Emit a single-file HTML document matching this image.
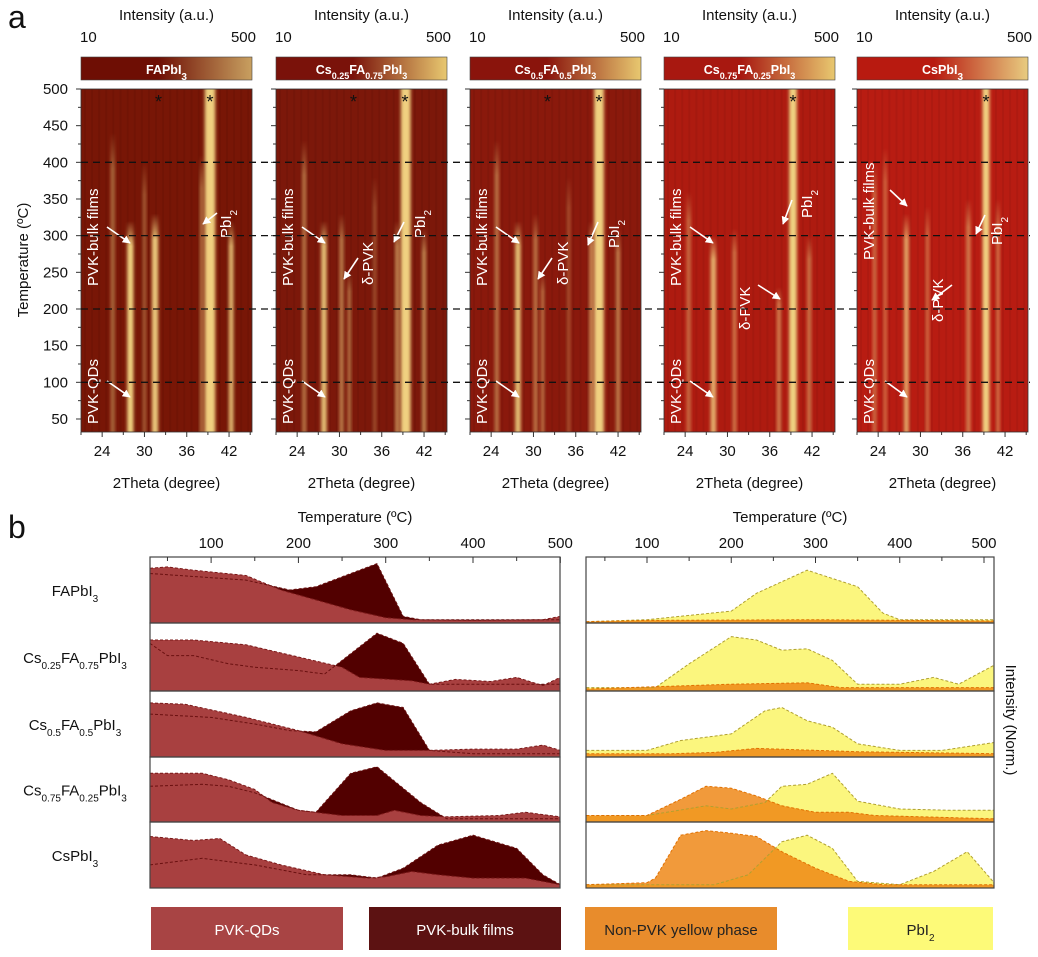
<!DOCTYPE html>
<html><head><meta charset="utf-8"><style>
html,body{margin:0;padding:0;background:#fff;}
svg{display:block;font-family:"Liberation Sans",Arial,sans-serif;}
</style></head><body>
<svg id="s" width="1038" height="957" viewBox="0 0 1038 957" xmlns="http://www.w3.org/2000/svg">
<defs>
<filter id="bl" x="-50%" y="-5%" width="200%" height="110%"><feGaussianBlur stdDeviation="1.6 0"/></filter>
<marker id="ar" viewBox="0 0 10 10" refX="9" refY="5" markerWidth="5" markerHeight="5" orient="auto"><path d="M0,0 L10,5 L0,10z" fill="#fff"/></marker>
</defs>
</svg>
<script>
(function(){
const S=document.getElementById('s');
let out='';
function t(x,y,s,o){o=o||{};out+=`<text x="${x}" y="${y}" font-size="${o.fs||14}" fill="${o.c||'#111'}" text-anchor="${o.a||'middle'}" ${o.w?'font-weight="bold"':''} ${o.tr?`transform="${o.tr}"`:''}>${s}</text>`;}
out+='<text x="8" y="28" font-size="32" fill="#111">a</text>';
out+='<text x="8" y="538" font-size="32" fill="#111">b</text>';
const lefts=[81,276,470,664,857],W=171,tp=89,bt=432;
const bgs=['#781606','#7c180a','#8a190c','#ae1b10','#b81c12'];
const cbs=[['#6e0e04','#c8a060'],['#7a120a','#e8c870'],['#8a140c','#e8c870'],['#a81810','#e8c870'],['#b81a10','#e8cc80']];
const names=['FAPbI<tspan baseline-shift="sub" font-size="10">3</tspan>',
'Cs<tspan baseline-shift="sub" font-size="9">0.25</tspan>FA<tspan baseline-shift="sub" font-size="9">0.75</tspan>PbI<tspan baseline-shift="sub" font-size="9">3</tspan>',
'Cs<tspan baseline-shift="sub" font-size="9">0.5</tspan>FA<tspan baseline-shift="sub" font-size="9">0.5</tspan>PbI<tspan baseline-shift="sub" font-size="9">3</tspan>',
'Cs<tspan baseline-shift="sub" font-size="9">0.75</tspan>FA<tspan baseline-shift="sub" font-size="9">0.25</tspan>PbI<tspan baseline-shift="sub" font-size="9">3</tspan>',
'CsPbI<tspan baseline-shift="sub" font-size="10">3</tspan>'];
const stripes=[
[[25.5,440,.45,.6],[28,320,1,.9],[30,400,.4,.5],[31.5,330,.95,.9],[38.1,410,.5,.5],[39.3,500,1,1.5],[42.3,320,.85,.7]],
[[25,430,.5,.6],[27.8,320,.9,.8],[30.3,330,.55,.6],[31.4,250,.5,.5],[35,380,.3,.5],[38.2,320,.6,.6],[39.4,500,1,1.4],[42,310,.6,.6]],
[[24.8,430,.5,.6],[27.8,320,.9,.8],[30.3,330,.5,.6],[31.3,250,.5,.5],[35,380,.3,.5],[38.2,320,.6,.6],[39.3,500,1,1.4],[42,310,.55,.6]],
[[24.5,360,.45,.6],[28,300,.8,.8],[31,310,.5,.6],[37.3,230,.55,.6],[39.3,500,1,1.1],[41.6,300,.5,.6]],
[[23.5,400,.5,.5],[25,420,.45,.5],[28,330,.75,.7],[31,340,.45,.5],[36.8,350,.55,.6],[39.3,500,1,1],[41,350,.5,.5]]];
// label positions per panel: bulk[x,bottom], QD[x,bottom], PbI2[x,bottom], delta[x,bottom] or null, arrows list
const LB=[
 {bk:[98,286],qd:[98,424],pb:[231,238],dl:null,ar:[[107,227,130,243],[107,381,130,397],[217,213,203,224]]},
 {bk:[293,286],qd:[293,424],pb:[425,238],dl:[373,285],ar:[[302,227,325,243],[302,381,325,397],[358,258,344,279],[404,222,394,242]]},
 {bk:[487,286],qd:[487,424],pb:[619,248],dl:[568,285],ar:[[496,227,519,243],[496,381,519,397],[552,258,538,279],[598,222,588,245]]},
 {bk:[681,286],qd:[681,424],pb:[812,218],dl:[750,330],ar:[[690,227,713,243],[690,381,713,397],[758,285,780,299],[792,200,783,224]]},
 {bk:[874,260],qd:[874,424],pb:[1002,245],dl:[943,322],ar:[[890,190,907,206],[885,381,907,397],[952,285,932,300],[985,215,976,234]]}];
const yT=T=>89+(500-T)*0.7333;
let defs='';
lefts.forEach((L,i)=>{
 const xq=th=>L+(th-21)*7.05;
 const cx=L+W/2;
 t(cx,20,'Intensity (a.u.)',{fs:15});
 t(L-1,42,'10',{fs:15,a:'start'});t(L+W+4,42,'500',{fs:15,a:'end'});
 defs+=`<linearGradient id="cg${i}" x1="0" x2="1"><stop offset="0" stop-color="${cbs[i][0]}"/><stop offset="0.45" stop-color="${cbs[i][0]}"/><stop offset="1" stop-color="${cbs[i][1]}"/></linearGradient>`;
 out+=`<rect x="${L}" y="57" width="${W}" height="23" fill="url(#cg${i})" stroke="#444" stroke-width="0.6"/>`;
 out+=`<text x="${cx}" y="74" font-size="12.5" font-weight="bold" fill="#fff" text-anchor="middle">${names[i]}</text>`;
 defs+=`<clipPath id="cp${i}"><rect x="${L}" y="${tp}" width="${W}" height="${bt-tp}"/></clipPath>`;
 out+=`<g clip-path="url(#cp${i})"><rect x="${L}" y="${tp}" width="${W}" height="${bt-tp}" fill="${bgs[i]}"/>`;
 for(let k=0;k<24;k++){const x=L+3+k*7.1;out+=`<rect x="${x}" y="${tp}" width="2" height="${bt-tp}" fill="#000" opacity="0.05"/>`;}
 stripes[i].forEach((s,j)=>{
  const id=`sg${i}_${j}`;const y0=s[1]>=500?tp:yT(s[1]);
  defs+=`<linearGradient id="${id}" x1="0" y1="0" x2="0" y2="1"><stop offset="0" stop-color="#f0d080" stop-opacity="${s[1]>=500?s[2]:0}"/><stop offset="0.12" stop-color="#f0d080" stop-opacity="${s[2]}"/><stop offset="1" stop-color="#f0d080" stop-opacity="${s[2]}"/></linearGradient>`;
  const w=s[3]*7;
  out+=`<rect x="${xq(s[0])-w/2}" y="${y0}" width="${w}" height="${bt-y0}" fill="url(#${id})" filter="url(#bl)"/>`;
 });
 out+='</g>';
 out+=`<rect x="${L}" y="${tp}" width="${W}" height="${bt-tp}" fill="none" stroke="#333" stroke-width="0.8"/>`;
 for(let T=50;T<=500;T+=25){const y=yT(T);out+=`<line x1="${L}" x2="${L-(T%50?3:5)}" y1="${y}" y2="${y}" stroke="#333"/>`;}
 for(let th=21;th<=45;th+=3){const x=xq(th);out+=`<line x1="${x}" x2="${x}" y1="${bt}" y2="${bt+(th%6?3:5)}" stroke="#333"/>`;}
 [24,30,36,42].forEach(th=>t(xq(th),456,th,{fs:15}));
 t(cx,488,'2Theta (degree)',{fs:15});
 const wt=(p,s)=>t(p[0],p[1],s,{fs:15,c:'#fff',a:'start',tr:`rotate(-90 ${p[0]} ${p[1]})`});
 const lb=LB[i];
 wt(lb.bk,'PVK-bulk films');
 wt(lb.qd,'PVK-QDs');
 if(lb.dl)wt(lb.dl,'δ-PVK');
 out+=`<text x="${lb.pb[0]}" y="${lb.pb[1]}" font-size="15" fill="#fff" text-anchor="start" transform="rotate(-90 ${lb.pb[0]} ${lb.pb[1]})">PbI<tspan baseline-shift="sub" font-size="10">2</tspan></text>`;
 lb.ar.forEach(a=>{out+=`<line x1="${a[0]}" y1="${a[1]}" x2="${a[2]}" y2="${a[3]}" stroke="#fff" stroke-width="1.6" marker-end="url(#ar)"/>`;});
 const px=xq(39.3);
 out+=`<text x="${px}" y="108" font-size="18" fill="#111" text-anchor="middle">*</text>`;
 if(i<3)out+=`<text x="${xq(32)}" y="108" font-size="18" fill="#111" text-anchor="middle">*</text>`;
});
[400,300,200,100].forEach(T=>{const y=yT(T);out+=`<line x1="81" x2="1030" y1="${y}" y2="${y}" stroke="#111" stroke-width="1.3" stroke-dasharray="7,5"/>`;});
[500,450,400,350,300,250,200,150,100,50].forEach(T=>t(68,yT(T)+5,T,{fs:15,a:'end'}));
t(28,260,'Temperature (ºC)',{fs:15,tr:'rotate(-90 28 260)'});
const rows=[[557,623],[623,691],[691,757],[757,822],[822,888]];
function poly(pts,xT,r,fill,op,stroke){
 const y1=r[1],h=r[1]-r[0];
 let d=`M${xT(pts[0][0])},${y1}`;pts.forEach(p=>{d+=` L${xT(p[0]).toFixed(1)},${(y1-p[1]*h).toFixed(1)}`;});d+=` L${xT(pts[pts.length-1][0])},${y1}Z`;
 out+=`<path d="${d}" fill="${fill}" fill-opacity="${op}"/>`;
 let l='';pts.forEach((p,k)=>{l+=(k?' L':'M')+xT(p[0]).toFixed(1)+','+(y1-p[1]*h).toFixed(1);});
 return `<path d="${l}" fill="none" stroke="${stroke}" stroke-width="1" stroke-dasharray="3,2"/>`;
}
const xL=T=>150+(T-30)*0.873, xR=T=>647+(T-100)*0.8425;
const QD=[
[[30,.83],[50,.85],[80,.8],[140,.72],[180,.5],[220,.35],[260,.2],[300,.08],[330,.05],[400,.04],[480,.05],[500,.1]],
[[30,.75],[80,.75],[140,.68],[200,.5],[250,.35],[270,.2],[330,.15],[350,.1],[380,.17],[420,.14],[450,.2],[480,.08],[500,.2]],
[[30,.82],[70,.8],[140,.6],[170,.5],[200,.4],[250,.2],[300,.1],[350,.1],[400,.12],[450,.12],[480,.18],[500,.1]],
[[30,.75],[90,.75],[120,.65],[150,.5],[170,.3],[200,.18],[250,.1],[290,.1],[310,.18],[340,.1],[370,.08],[430,.1],[460,.15],[500,.08]],
[[30,.78],[80,.72],[110,.75],[140,.5],[180,.35],[230,.2],[280,.15],[300,.17],[330,.25],[360,.2],[400,.15],[460,.15],[500,.05]]];
const BK=[
[[30,.75],[140,.65],[190,.5],[220,.55],[290,.9],[320,.1],[340,.05],[500,.05]],
[[30,.7],[50,.52],[80,.52],[120,.4],[150,.35],[200,.3],[230,.25],[260,.55],[290,.85],[320,.7],[350,.1],[500,.1]],
[[30,.65],[100,.6],[150,.5],[190,.4],[220,.38],[260,.7],[290,.82],[320,.75],[350,.1],[400,.05],[500,.05]],
[[30,.55],[90,.58],[120,.55],[150,.45],[200,.18],[220,.15],[260,.75],[290,.85],[340,.3],[370,.05],[500,.05]],
[[30,.35],[90,.45],[150,.35],[210,.2],[260,.2],[290,.15],[320,.3],[360,.65],[400,.8],[450,.6],[480,.2],[500,.05]]];
const YL=[
[[28,.02],[100,.05],[200,.18],[230,.45],[290,.8],[350,.55],[380,.15],[400,.05],[512,.05]],
[[28,.05],[110,.05],[150,.4],[200,.8],[230,.75],[260,.6],[290,.62],[320,.45],[350,.1],[400,.1],[440,.2],[470,.1],[512,.38]],
[[28,.1],[100,.1],[140,.25],[200,.35],[240,.7],[260,.75],[290,.55],[320,.45],[350,.2],[400,.1],[450,.1],[512,.22]],
[[28,.1],[100,.1],[170,.25],[200,.2],[240,.3],[260,.55],[290,.58],[320,.75],[350,.32],[400,.2],[460,.18],[512,.18]],
[[28,.05],[180,.05],[220,.2],[260,.7],[290,.8],[320,.6],[350,.1],[400,.05],[440,.25],[480,.55],[512,.08]]];
const OR=[
[[28,.02],[100,.04],[300,.05],[512,.03]],
[[28,.03],[200,.1],[290,.12],[330,.05],[512,.05]],
[[28,.05],[130,.05],[180,.07],[230,.13],[350,.08],[512,.05]],
[[28,.1],[100,.1],[140,.35],[170,.55],[200,.52],[230,.4],[260,.25],[300,.15],[340,.15],[370,.1],[512,.05]],
[[28,.05],[100,.08],[110,.15],[140,.8],[170,.87],[200,.83],[230,.78],[260,.55],[300,.3],[340,.1],[380,.05],[512,.05]]];
const lab=['FAPbI<tspan baseline-shift="sub" font-size="10">3</tspan>',
'Cs<tspan baseline-shift="sub" font-size="10">0.25</tspan>FA<tspan baseline-shift="sub" font-size="10">0.75</tspan>PbI<tspan baseline-shift="sub" font-size="10">3</tspan>',
'Cs<tspan baseline-shift="sub" font-size="10">0.5</tspan>FA<tspan baseline-shift="sub" font-size="10">0.5</tspan>PbI<tspan baseline-shift="sub" font-size="10">3</tspan>',
'Cs<tspan baseline-shift="sub" font-size="10">0.75</tspan>FA<tspan baseline-shift="sub" font-size="10">0.25</tspan>PbI<tspan baseline-shift="sub" font-size="10">3</tspan>',
'CsPbI<tspan baseline-shift="sub" font-size="10">3</tspan>'];
rows.forEach((r,i)=>{
 let ls='';
 ls+=poly(BK[i],xL,r,'#520000',1,'#6a1010');
 ls+=poly(QD[i],xL,r,'#a84040',1,'#7a1818');
 out+=ls;
 let rs='';
 rs+=poly(YL[i],xR,r,'#fbf570',0.9,'#b0a030');
 rs+=poly(OR[i],xR,r,'#ee8410',0.82,'#e07000');
 out+=rs;
 out+=`<text x="75" y="${(r[0]+r[1])/2+6}" font-size="15" fill="#111" text-anchor="middle">${lab[i]}</text>`;
 out+=`<rect x="150" y="${r[0]}" width="410" height="${r[1]-r[0]}" fill="none" stroke="#444" stroke-width="1.2"/>`;
 out+=`<rect x="586" y="${r[0]}" width="408" height="${r[1]-r[0]}" fill="none" stroke="#444" stroke-width="1.2"/>`;
});
for(let T=50;T<=500;T+=50){out+=`<line x1="${xL(T)}" x2="${xL(T)}" y1="557" y2="${557+(T%100?4:6)}" stroke="#333"/>`;out+=`<line x1="${xR(T)}" x2="${xR(T)}" y1="557" y2="${557+(T%100?4:6)}" stroke="#333"/>`;}
[100,200,300,400,500].forEach(T=>{t(xL(T),548,T,{fs:15});t(xR(T),548,T,{fs:15});});
t(355,522,'Temperature (ºC)',{fs:15});t(790,522,'Temperature (ºC)',{fs:15});
t(1006,720,'Intensity (Norm.)',{fs:15,tr:'rotate(90 1006 720)'});
[[151,343,'#a84444','PVK-QDs','#fff'],[369,561,'#5c1212','PVK-bulk films','#fff'],[585,777,'#e88c2c','Non-PVK yellow phase','#222'],[848,993,'#fdfa78','PbI<tspan baseline-shift="sub" font-size="10">2</tspan>','#222']].forEach(l=>{
 out+=`<rect x="${l[0]}" y="907" width="${l[1]-l[0]}" height="43" fill="${l[2]}"/>`;
 out+=`<text x="${(l[0]+l[1])/2}" y="935" font-size="15" fill="${l[4]}" text-anchor="middle">${l[3]}</text>`;
});
S.innerHTML+='<defs>'+defs+'</defs>'+out;
})();
</script>
</body></html>
